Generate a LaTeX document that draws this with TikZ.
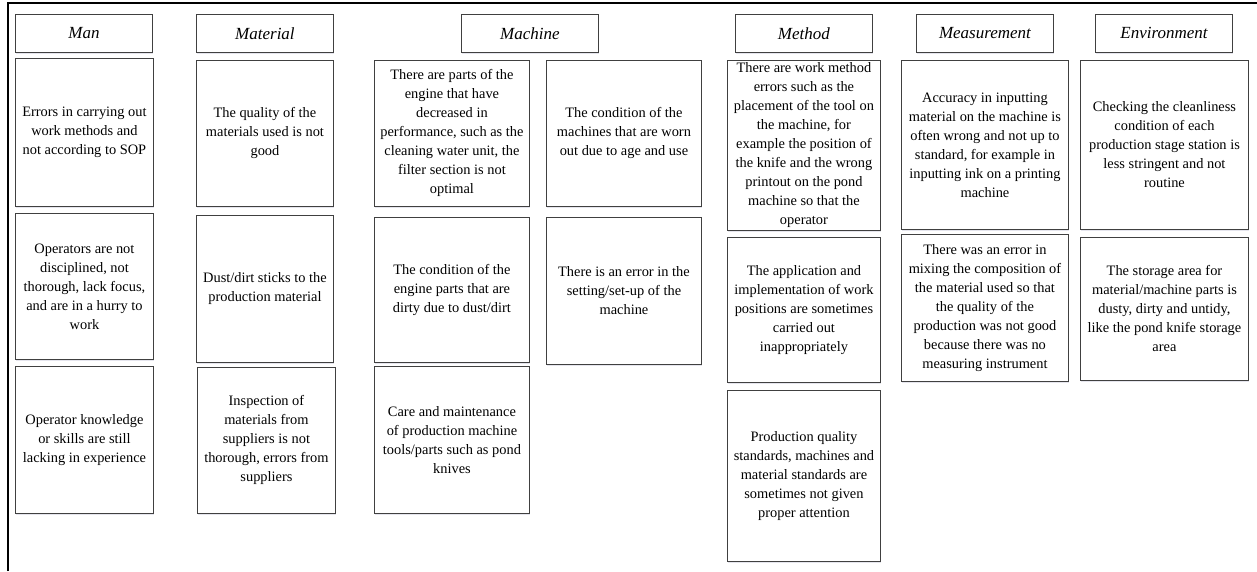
\documentclass[tikz,border=0pt]{standalone}
\usepackage{fontspec}
\setmainfont{Liberation Serif}
\usepackage{tikz}
\usetikzlibrary{shadows}

\begin{document}
\begin{tikzpicture}[
    x=1pt, y=-1pt,
    every node/.style={anchor=north west, align=center, inner sep=1pt},
    head/.style={draw=black!75, line width=0.9pt, minimum width=137pt, minimum height=38pt, fill=white,
        font=\fontsize{17}{20}\selectfont\itshape,
        drop shadow={shadow xshift=0.8pt, shadow yshift=-1.4pt, fill=blue!30!black!20, opacity=0.5}},
    cause/.style={draw=black!75, line width=0.9pt, fill=white,
        font=\fontsize{14.4}{19}\selectfont,
        drop shadow={shadow xshift=0.8pt, shadow yshift=-1.4pt, fill=blue!30!black!20, opacity=0.5}},
]
    \useasboundingbox (0,0) rectangle (1257,571);

    % Frame
    \draw[line width=1.6pt] (8,571) -- (8,3) -- (1257,3);

    % Headers
    \node[head] (man) at (15,14) {Man};
    \node[head] (material) at (196,14) {Material};
    \node[head] (machine) at (461,14) {Machine};
    \node[head] (method) at (735,14) {Method};
    \node[head] (measure) at (916,14) {Measurement};
    \node[head] (env) at (1095,14) {Environment};

    % Man
    \node[cause, minimum width=138pt, minimum height=148pt] (man1) at (15,58) {Errors in carrying out\\work methods and\\not according to SOP};
    \node[cause, minimum width=138pt, minimum height=146pt] (man2) at (15,213) {Operators are not\\disciplined, not\\thorough, lack focus,\\and are in a hurry to\\work};
    \node[cause, minimum width=138pt, minimum height=147pt] (man3) at (15,366) {Operator knowledge\\or skills are still\\lacking in experience};

    % Material
    \node[cause, minimum width=137pt, minimum height=146pt] (mat1) at (196,60) {The quality of the\\materials used is not\\good};
    \node[cause, minimum width=137pt, minimum height=147pt] (mat2) at (196,215) {Dust/dirt sticks to the\\production material};
    \node[cause, minimum width=138pt, minimum height=146pt] (mat3) at (197,367) {Inspection of\\materials from\\suppliers is not\\thorough, errors from\\suppliers};

    % Machine
    \node[cause, minimum width=155pt, minimum height=146pt] (mac1) at (374,60) {There are parts of the\\engine that have\\decreased in\\performance, such as the\\cleaning water unit, the\\filter section is not\\optimal};
    \node[cause, minimum width=155pt, minimum height=145pt] (mac2) at (374,217) {The condition of the\\engine parts that are\\dirty due to dust/dirt};
    \node[cause, minimum width=155pt, minimum height=147pt] (mac3) at (374,366) {Care and maintenance\\of production machine\\tools/parts such as pond\\knives};
    \node[cause, minimum width=155pt, minimum height=146pt] (mac4) at (546,60) {The condition of the\\machines that are worn\\out due to age and use};
    \node[cause, minimum width=155pt, minimum height=147pt] (mac5) at (546,217) {There is an error in the\\setting/set-up of the\\machine};

    % Method
    \node[cause, minimum width=153pt, minimum height=170pt, inner sep=0pt] (met1) at (727,60) {There are work method\\errors such as the\\placement of the tool on\\the machine, for\\example the position of\\the knife and the wrong\\printout on the pond\\machine so that the\\operator};
    \node[cause, minimum width=153pt, minimum height=145pt] (met2) at (727,237) {The application and\\implementation of work\\positions are sometimes\\carried out\\inappropriately};
    \node[cause, minimum width=153pt, minimum height=171pt] (met3) at (727,390) {Production quality\\standards, machines and\\material standards are\\sometimes not given\\proper attention};

    % Measurement
    \node[cause, minimum width=167pt, minimum height=169pt] (mea1) at (901,60) {Accuracy in inputting\\material on the machine is\\often wrong and not up to\\standard, for example in\\inputting ink on a printing\\machine};
    \node[cause, minimum width=167pt, minimum height=147pt] (mea2) at (901,234) {There was an error in\\mixing the composition of\\the material used so that\\the quality of the\\production was not good\\because there was no\\measuring instrument};

    % Environment
    \node[cause, minimum width=168pt, minimum height=169pt] (env1) at (1080,60) {Checking the cleanliness\\condition of each\\production stage station is\\less stringent and not\\routine};
    \node[cause, minimum width=168pt, minimum height=143pt] (env2) at (1080,237) {The storage area for\\material/machine parts is\\dusty, dirty and untidy,\\like the pond knife storage\\area};
\end{tikzpicture}
\end{document}
